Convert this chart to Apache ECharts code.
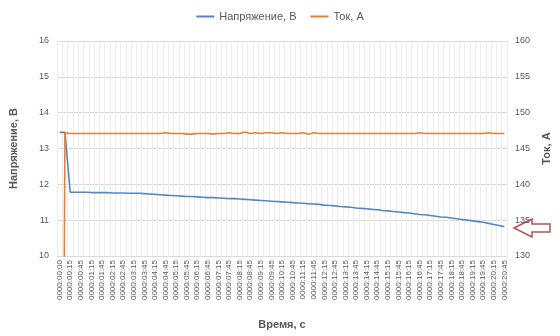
<!DOCTYPE html>
<html><head><meta charset="utf-8">
<script src="https://cdn.jsdelivr.net/npm/echarts@6/dist/echarts.min.js"></script>
<style>html,body{margin:0;padding:0;background:#fff}#c{width:560px;height:336px}</style>
</head><body><div id="c"></div>
<script>
const times = ['0000:00:00','0000:00:05'];
(function(){ for(let s=15;s<=1245;s+=15){const m=Math.floor(s/60),ss=s%60;times.push('0000:'+String(m).padStart(2,'0')+':'+String(ss).padStart(2,'0'));} })();
const voltage = [13.45,13.45,11.78,11.78,11.78,11.78,11.77,11.77,11.77,11.77,11.76,11.76,11.76,11.75,11.75,11.75,11.74,11.73,11.72,11.71,11.70,11.69,11.68,11.67,11.66,11.66,11.65,11.64,11.63,11.63,11.62,11.61,11.60,11.60,11.59,11.58,11.57,11.56,11.55,11.54,11.53,11.52,11.51,11.50,11.49,11.48,11.47,11.46,11.45,11.44,11.42,11.41,11.40,11.38,11.37,11.36,11.34,11.33,11.32,11.30,11.29,11.27,11.26,11.24,11.23,11.21,11.20,11.18,11.16,11.15,11.13,11.11,11.09,11.08,11.06,11.04,11.02,11.00,10.98,10.96,10.94,10.91,10.88,10.85,10.82];
const current = [0,147.2,147.1,147.1,147.1,147.1,147.1,147.1,147.1,147.1,147.1,147.1,147.1,147.1,147.1,147.1,147.1,147.1,147.1,147.1,147.2,147.1,147.1,147.1,147.0,147.0,147.1,147.1,147.1,147.0,147.1,147.1,147.2,147.1,147.1,147.3,147.1,147.2,147.1,147.2,147.2,147.1,147.2,147.1,147.1,147.1,147.2,147.0,147.2,147.1,147.1,147.1,147.1,147.1,147.1,147.1,147.1,147.1,147.1,147.1,147.1,147.1,147.1,147.1,147.1,147.1,147.1,147.1,147.2,147.1,147.1,147.1,147.1,147.1,147.1,147.1,147.1,147.1,147.1,147.1,147.1,147.2,147.1,147.1,147.1];
const leftTicks = {min:10,max:16,interval:1};
const rightTicks = {min:130,max:160,interval:5};
const names = ['Напряжение, В','Ток, А'];

const chart = echarts.init(document.getElementById('c'),null,{renderer:'canvas'});
const lbl = {color:'#595959',fontSize:9,fontFamily:'Liberation Sans, Arial, sans-serif'};
chart.setOption({
  animation:false,
  legend:{top:6,left:'center',itemWidth:18,itemHeight:2,icon:'rect',itemGap:14,
    textStyle:{color:'#595959',fontSize:11,fontFamily:'Liberation Sans, Arial, sans-serif'},data:names},
  grid:{left:56,right:48,top:41,bottom:80},
  xAxis:{type:'category',data:times,boundaryGap:true,
    name:'Время, с',nameLocation:'middle',nameGap:63,
    nameTextStyle:{color:'#595959',fontSize:11,fontWeight:'bold',fontFamily:'Liberation Sans, Arial, sans-serif'},
    axisLine:{lineStyle:{color:'#d9d9d9'}},axisTick:{show:false},
    axisLabel:Object.assign({},lbl,{fontSize:8,rotate:90,interval:function(i){return i%2===0;},margin:4}),
    splitLine:{show:true,interval:0,lineStyle:{color:'#ececec',width:1}}},
  yAxis:[
    Object.assign({type:'value',name:names[0],nameLocation:'middle',nameGap:38,
      nameTextStyle:{color:'#595959',fontSize:11,fontWeight:'bold',fontFamily:'Liberation Sans, Arial, sans-serif'},
      axisLine:{show:false},axisTick:{show:false},axisLabel:Object.assign({},lbl,{margin:8}),
      splitLine:{lineStyle:{color:'#d9d9d9'}}},leftTicks),
    Object.assign({type:'value',name:names[1],nameLocation:'middle',nameGap:34,nameRotate:90,
      nameTextStyle:{color:'#595959',fontSize:11,fontWeight:'bold',fontFamily:'Liberation Sans, Arial, sans-serif'},
      axisLine:{show:false},axisTick:{show:false},axisLabel:Object.assign({},lbl,{margin:8}),
      splitLine:{show:false}},rightTicks)
  ],
  series:[
    {name:names[0],type:'line',data:voltage,yAxisIndex:0,showSymbol:false,symbol:'none',clip:true,
      lineStyle:{color:'#5586c8',width:1.6},itemStyle:{color:'#5586c8'}},
    {name:names[1],type:'line',data:current,yAxisIndex:1,showSymbol:false,symbol:'none',clip:true,
      lineStyle:{color:'#ed7d31',width:1.6},itemStyle:{color:'#ed7d31'}}
  ],
  graphic:[{type:'polygon',shape:{points:[[514,228],[532,219],[532,224],[550,224],[550,232],[532,232],[532,237]]},
    style:{fill:'#fff',stroke:'#c0504d',lineWidth:1.5}}]
});
</script></body></html>
